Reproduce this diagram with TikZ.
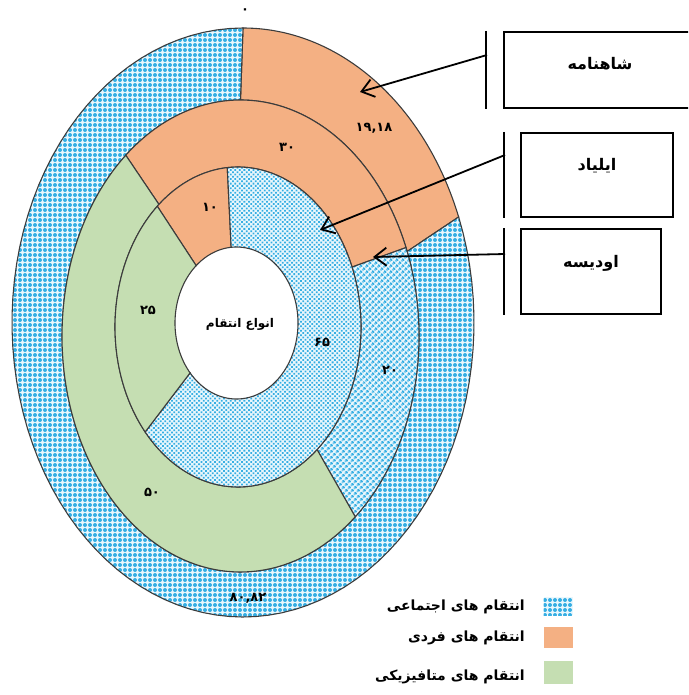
\documentclass[tikz,border=0pt]{standalone}
\usepackage{fontspec}
\newfontfamily\fafont[Script=Arabic]{DejaVu Sans}
\TeXXeTstate=1
\usetikzlibrary{patterns.meta,arrows.meta}

\definecolor{socialblue}{HTML}{35AEE3}
\definecolor{socialback}{HTML}{EAF7FC}
\definecolor{personalorange}{HTML}{F4B083}
\definecolor{metagreen}{HTML}{C5DEB2}
\definecolor{edgegray}{HTML}{3C3C3C}

\tikzset{
  ring line/.style={draw=edgegray, line width=1.1pt},
  social dots/.style={preaction={fill=socialback}, pattern={Dots[distance=5pt,radius=2pt]}, pattern color=socialblue},
  social outer/.style={ring line, social dots},
  social middle/.style={ring line, preaction={fill=socialback}, pattern={Dots[distance=4pt,radius=1.6pt,angle=45]}, pattern color=socialblue},
  social inner/.style={ring line, preaction={fill=socialback}, pattern={Dots[distance=3.2pt,radius=1.25pt,angle=45]}, pattern color=socialblue},
  personal/.style={ring line, fill=personalorange},
  metaphysical/.style={ring line, fill=metagreen},
  ring value/.style={font=\fafont\bfseries\fontsize{13}{15}\selectfont, inner sep=0pt},
  book box/.style={draw, line width=2pt, font=\fafont\bfseries\fontsize{16}{18}\selectfont, inner xsep=0pt, inner ysep=0pt},
  book bar/.style={line width=2pt},
  book arrow/.style={line width=1.8pt, -{Straight Barb[length=12pt,width=18pt]}},
  legend text/.style={font=\fafont\bfseries\fontsize{14}{16}\selectfont, anchor=east, inner sep=0pt},
  swatch/.style={minimum width=29pt, minimum height=21pt, inner sep=0pt}
}

% one piece of a ring: look, outer edge, inner edge, from angle, to angle
\newcommand{\ringpart}[5]{%
  \path[#1] plot[domain=#4:#5,samples=90] ({#2x(\x)},{#2y(\x)})
    -- plot[domain=#5:#4,samples=90] ({#3x(\x)},{#3y(\x)}) -- cycle;}

\begin{document}
\begin{tikzpicture}[x=1pt, y=-1pt,
  declare function={
    ox(\t)=243+231*sin(\t);   oy(\t)=322.5-294.5*cos(\t);
    mx(\t)=240.5+178.5*sin(\t); my(\t)=336-236*cos(\t);
    ix(\t)=238+123*sin(\t);   iy(\t)=327-160*cos(\t);
    hx(\t)=236.5+61.5*sin(\t); hy(\t)=323-76*cos(\t);}]
\useasboundingbox (0,0) rectangle (688,695);
\clip (0,0) rectangle (688,695);

% outer ring (shahnameh)
\ringpart{personal}{o}{m}{0}{69}
\ringpart{social outer}{o}{m}{69}{360}
% middle ring (odyssey)
\ringpart{personal}{m}{i}{-40}{68}
\ringpart{social middle}{m}{i}{68}{140}
\ringpart{metaphysical}{m}{i}{140}{320}
% inner ring (iliad)
\ringpart{personal}{i}{h}{-41}{-5}
\ringpart{social inner}{i}{h}{-5}{229}
\ringpart{metaphysical}{i}{h}{229}{319}

\node[ring value] (zero) at (245,11) {۰};
\node[ring value] (shahperson) at (374,128) {۱۹,۱۸};
\node[ring value] (shahsocial) at (248,598) {۸۰,۸۲};
\node[ring value] (odyperson) at (287,147) {۳۰};
\node[ring value] (odysocial) at (390,370) {۲۰};
\node[ring value] (odymeta) at (152,492) {۵۰};
\node[ring value] (ilperson) at (210,207) {۱۰};
\node[ring value] (ilsocial) at (322,342) {۶۵};
\node[ring value] (ilmeta) at (148,310) {۲۵};
\node[font=\fafont\bfseries\fontsize{12}{14}\selectfont, inner sep=0pt] (kinds) at (240,324) {\beginR انواع انتقام\endR};

% books
\node[book box, minimum width=192pt, text height=38pt, text depth=38pt] (shahnameh) at (600,70) {\beginR شاهنامه\endR};
\node[book box, minimum width=152pt, text height=38pt, text depth=46pt] (iliad) at (597,175) {\beginR ایلیاد\endR};
\node[book box, minimum width=140pt, text height=38pt, text depth=47pt] (odyssey) at (591,271.5) {\beginR اودیسه\endR};
\draw[book bar] ([xshift=-17pt]shahnameh.north west) -- ([xshift=-17pt]shahnameh.south west);
\draw[book bar] ([xshift=-16pt]iliad.north west) -- ([xshift=-16pt]iliad.south west);
\draw[book bar] ([xshift=-16pt]odyssey.north west) -- ([xshift=-16pt]odyssey.south west);

\coordinate (shahfoot) at (487,55);
\coordinate (shahtip) at (360,92);
\coordinate (iliadfoot) at (505,155);
\coordinate (iliadtip) at (320,230);
\coordinate (odysseyfoot) at (505,254);
\coordinate (odysseytip) at (373,257);
\draw[book arrow] (shahfoot) -- (shahtip);
\draw[book arrow] (iliadfoot) -- (iliadtip);
\draw[book arrow] (odysseyfoot) -- (odysseytip);

% legend
\node[swatch, social dots, minimum height=18pt] (keysocial) at (558,606) {};
\node[swatch, fill=personalorange] (keyperson) at (558,637) {};
\node[swatch, fill=metagreen, minimum height=23pt] (keymeta) at (558,672) {};
\node[legend text] (textsocial) at (525,607) {\beginR انتقام های اجتماعی\endR};
\node[legend text] (textperson) at (525,638) {\beginR انتقام های فردی\endR};
\node[legend text] (textmeta) at (525,677) {\beginR انتقام های متافیزیکی\endR};
\end{tikzpicture}
\end{document}
